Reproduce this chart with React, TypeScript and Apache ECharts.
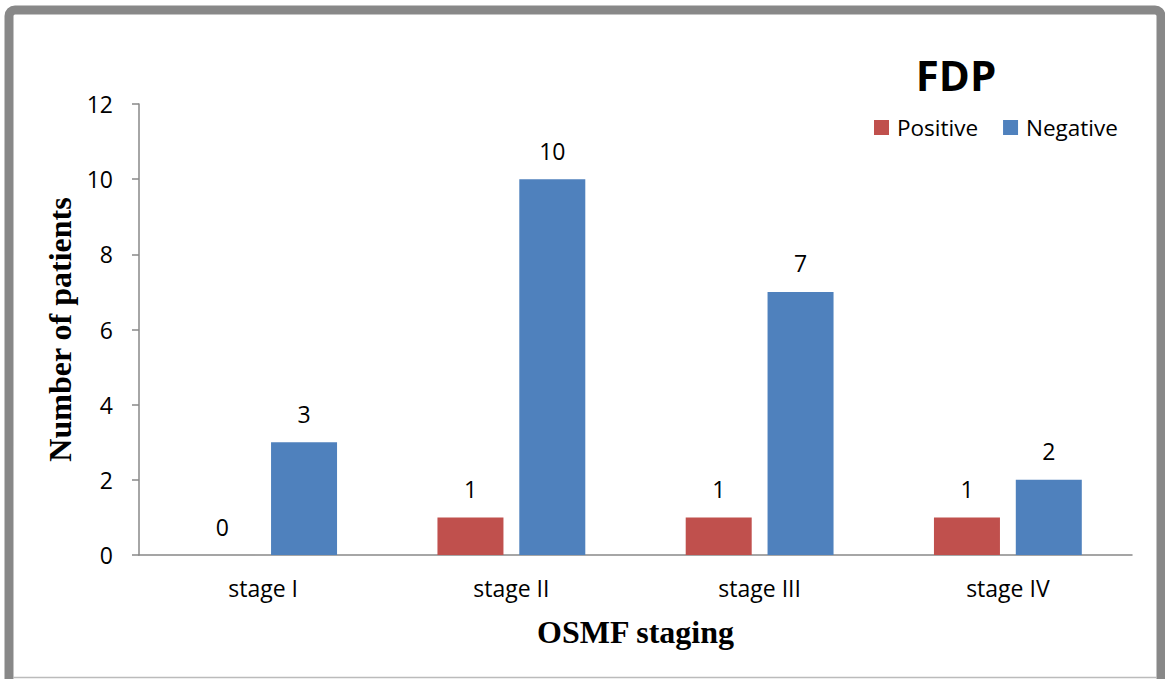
import React, { useEffect, useRef } from "react";
import * as echarts from "echarts";

const categories = ["stage I", "stage II", "stage III", "stage IV"];
const positive = [0, 1, 1, 1];
const negative = [3, 10, 7, 2];
const yTicks = { min: 0, max: 12, interval: 2 };

const SANS = "'Open Sans', 'Noto Sans', sans-serif";
const SERIF = "'Liberation Serif', 'DejaVu Serif', serif";

export default function App() {
  const ref = useRef<HTMLDivElement>(null);

  useEffect(() => {
    if (!ref.current) return;
    const chart = echarts.init(ref.current, undefined, { renderer: "svg" });

    const label = {
      show: true,
      position: "top" as const,
      distance: 17,
      color: "#000",
      fontSize: 23,
      fontFamily: SANS,
    };

    chart.setOption({
      animation: false,
      backgroundColor: "#fff",
      title: {
        text: "FDP",
        left: 951,
        top: 48,
        textAlign: "center",
        textStyle: { fontSize: 42, fontWeight: "bold", fontFamily: SANS, color: "#000" },
      },
      legend: {
        data: ["Positive", "Negative"],
        left: 874,
        top: 116,
        padding: 0,
        itemWidth: 15,
        itemHeight: 15,
        itemGap: 25,
        icon: "rect",
        textStyle: { fontSize: 22.5, fontFamily: SANS, color: "#000", padding: [0, 0, 0, 3] },
      },
      grid: { left: 139, right: 33, top: 104, bottom: 124, containLabel: false },
      xAxis: {
        type: "category",
        data: categories,
        name: "OSMF staging",
        nameLocation: "middle",
        nameGap: 61,
        nameTextStyle: { fontSize: 32, fontWeight: "bold", fontFamily: SERIF, color: "#000" },
        axisLine: { lineStyle: { color: "#888", width: 1.5 } },
        axisTick: { show: false },
        axisLabel: { fontSize: 23, fontFamily: SANS, color: "#000", margin: 21 },
      },
      yAxis: {
        type: "value",
        min: yTicks.min,
        max: yTicks.max,
        interval: yTicks.interval,
        name: "Number of patients",
        nameLocation: "middle",
        nameGap: 61,
        nameTextStyle: { fontSize: 32, fontWeight: "bold", fontFamily: SERIF, color: "#000" },
        axisLine: { show: true, lineStyle: { color: "#888", width: 1.5 } },
        axisTick: { show: true, length: 7, lineStyle: { color: "#888", width: 1.5 } },
        splitLine: { show: false },
        axisLabel: { fontSize: 23, fontFamily: SANS, color: "#000", margin: 26 },
      },
      series: [
        {
          name: "Positive",
          type: "bar",
          data: positive,
          barWidth: 66,
          barGap: "24%",
          itemStyle: { color: "#C0504D" },
          label,
        },
        {
          name: "Negative",
          type: "bar",
          data: negative,
          barWidth: 66,
          barGap: "24%",
          itemStyle: { color: "#4F81BD" },
          label,
        },
      ],
      graphic: [
        {
          type: "rect",
          shape: { x: 9, y: 10, width: 1152, height: 720, r: 6 },
          style: { fill: "none", stroke: "#888", lineWidth: 9 },
          silent: true,
        },
        {
          type: "line",
          shape: { x1: 13, y1: 677.5, x2: 1157, y2: 677.5 },
          style: { stroke: "#bbb", lineWidth: 1.5 },
          silent: true,
        },
      ],
    });

    return () => chart.dispose();
  }, []);

  return (
    <div
      ref={ref}
      style={{ position: "fixed", left: 0, top: 0, width: 1165, height: 679 }}
    />
  );
}
